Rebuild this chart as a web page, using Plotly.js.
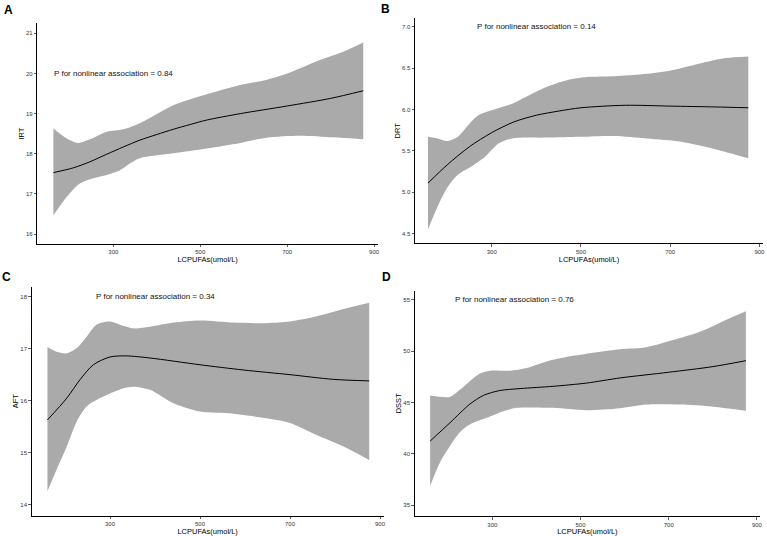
<!DOCTYPE html>
<html>
<head>
<meta charset="utf-8">
<script src="https://cdn.plot.ly/plotly-3.0.1.min.js"></script>
<style>html,body{margin:0;padding:0;background:#fff;}#chart{width:767px;height:536px;}</style>
</head>
<body>
<div id="chart"></div>
<script>
// ---------- Panel A: IRT ----------
const A_lineX = [162, 208, 246, 285, 323, 361, 400, 438, 477, 515, 592, 700, 800, 875];
const A_lineY = [17.53, 17.65, 17.80, 17.99, 18.17, 18.34, 18.48, 18.61, 18.73, 18.84, 19.00, 19.19, 19.38, 19.57];
const A_upX = [162, 193, 219, 246, 285, 323, 361, 400, 438, 477, 515, 592, 652, 700, 767, 829, 875];
const A_upY = [18.63, 18.38, 18.27, 18.36, 18.55, 18.61, 18.76, 18.99, 19.21, 19.36, 19.48, 19.71, 19.84, 20.0, 20.30, 20.54, 20.77];
const A_loX = [162, 193, 223, 254, 285, 315, 338, 361, 438, 515, 592, 652, 729, 806, 875];
const A_loY = [16.47, 16.93, 17.26, 17.39, 17.47, 17.59, 17.76, 17.89, 18.01, 18.13, 18.27, 18.40, 18.45, 18.41, 18.36];

// ---------- Panel B: DRT ----------
const B_lineX = [157, 200, 250, 300, 350, 400, 450, 500, 600, 700, 800, 875];
const B_lineY = [5.11, 5.33, 5.55, 5.72, 5.85, 5.93, 5.98, 6.02, 6.05, 6.04, 6.03, 6.02];
const B_upX = [157, 178, 201, 224, 247, 270, 300, 346, 376, 422, 467, 513, 573, 649, 710, 771, 824, 875];
const B_upY = [5.67, 5.65, 5.62, 5.67, 5.81, 5.93, 5.99, 6.07, 6.15, 6.27, 6.35, 6.39, 6.40, 6.43, 6.48, 6.56, 6.62, 6.64];
const B_loX = [157, 178, 201, 224, 254, 285, 315, 346, 422, 498, 573, 649, 725, 801, 875];
const B_loY = [4.55, 4.82, 5.06, 5.21, 5.31, 5.43, 5.59, 5.65, 5.66, 5.67, 5.68, 5.65, 5.61, 5.52, 5.41];

// ---------- Panel C: AFT ----------
const C_lineX = [161, 204, 233, 263, 300, 337, 389, 500, 596, 700, 796, 876];
const C_lineY = [15.63, 16.05, 16.40, 16.69, 16.84, 16.86, 16.82, 16.69, 16.59, 16.50, 16.41, 16.38];
const C_upX = [161, 181, 204, 226, 248, 270, 300, 322, 352, 389, 441, 500, 574, 648, 700, 759, 819, 876];
const C_upY = [17.03, 16.94, 16.91, 17.01, 17.23, 17.46, 17.52, 17.46, 17.39, 17.42, 17.50, 17.54, 17.50, 17.49, 17.52, 17.62, 17.76, 17.88];
const C_loX = [161, 181, 204, 226, 248, 278, 300, 330, 352, 389, 441, 500, 574, 648, 700, 759, 819, 876];
const C_loY = [14.26, 14.67, 15.12, 15.60, 15.89, 16.05, 16.14, 16.24, 16.27, 16.21, 15.95, 15.79, 15.75, 15.66, 15.57, 15.34, 15.12, 14.86];

// ---------- Panel D: DSST ----------
const D_lineX = [159, 204, 249, 280, 317, 363, 438, 514, 590, 700, 800, 875];
const D_lineY = [41.24, 43.03, 44.84, 45.70, 46.17, 46.36, 46.58, 46.90, 47.40, 47.95, 48.50, 49.08];
const D_upX = [159, 204, 227, 249, 272, 295, 340, 378, 423, 476, 590, 649, 710, 771, 832, 875];
const D_upY = [45.68, 45.55, 46.26, 47.07, 47.82, 48.10, 48.10, 48.37, 49.00, 49.50, 50.20, 50.40, 51.10, 51.90, 53.10, 53.90];
const D_loX = [159, 181, 204, 227, 249, 287, 325, 355, 438, 514, 590, 649, 725, 801, 875];
const D_loY = [36.87, 39.14, 40.76, 42.12, 42.86, 43.51, 44.16, 44.48, 44.48, 44.25, 44.45, 44.80, 44.80, 44.60, 44.20];

// ---------- Labels ----------
const panelLetters = ['A', 'B', 'C', 'D'];
const yTitles = ['IRT', 'DRT', 'AFT', 'DSST'];
const xTitle = 'LCPUFAs(umol/L)';
const pTexts = ['P for nonlinear association = 0.84', 'P for nonlinear association = 0.14',
                'P for nonlinear association = 0.34', 'P for nonlinear association = 0.76'];
const xTicks = [300, 500, 700, 900];
const yTicksA = [16, 17, 18, 19, 20, 21];
const yTicksB = [4.5, 5.0, 5.5, 6.0, 6.5, 7.0];
const yTicksC = [14, 15, 16, 17, 18];
const yTicksD = [35, 40, 45, 50, 55];

const panels = [
  {lx: A_lineX, ly: A_lineY, ux: A_upX, uy: A_upY, dx: A_loX, dy: A_loY},
  {lx: B_lineX, ly: B_lineY, ux: B_upX, uy: B_upY, dx: B_loX, dy: B_loY},
  {lx: C_lineX, ly: C_lineY, ux: C_upX, uy: C_upY, dx: C_loX, dy: C_loY},
  {lx: D_lineX, ly: D_lineY, ux: D_upX, uy: D_upY, dx: D_loX, dy: D_loY}
];

const FILL = '#aaaaaa';
const traces = [];
panels.forEach((p, i) => {
  const sfx = i === 0 ? '' : String(i + 1);
  traces.push({
    x: p.dx, y: p.dy, type: 'scatter', mode: 'lines',
    line: {width: 0, color: FILL, shape: 'spline', smoothing: 0.8},
    xaxis: 'x' + sfx, yaxis: 'y' + sfx, hoverinfo: 'skip', showlegend: false
  });
  traces.push({
    x: p.ux, y: p.uy, type: 'scatter', mode: 'lines', fill: 'tonexty', fillcolor: FILL,
    line: {width: 0, color: FILL, shape: 'spline', smoothing: 0.8},
    xaxis: 'x' + sfx, yaxis: 'y' + sfx, hoverinfo: 'skip', showlegend: false
  });
  traces.push({
    x: p.lx, y: p.ly, type: 'scatter', mode: 'lines',
    line: {width: 1, color: '#000000', shape: 'spline', smoothing: 0.8},
    xaxis: 'x' + sfx, yaxis: 'y' + sfx, showlegend: false
  });
});

const tickFont = {family: 'Liberation Sans, Arial, sans-serif', size: 6, color: '#333333'};
const titleFont = {family: 'Liberation Sans, Arial, sans-serif', size: 7.5, color: '#000000'};

function xAxis(domain, range, anchor) {
  return {
    domain: domain, range: range, anchor: anchor,
    tickvals: xTicks, ticktext: xTicks.map(String),
    showline: true, linecolor: '#000000', linewidth: 1,
    ticks: 'outside', ticklen: 2.5, tickwidth: 0.8, tickcolor: '#333333',
    tickfont: tickFont, showgrid: false, zeroline: false, automargin: false,
    title: {text: xTitle, font: titleFont, standoff: 0}
  };
}
function yAxis(domain, range, anchor, vals, fmt, title) {
  return {
    domain: domain, range: range, anchor: anchor,
    tickvals: vals, ticktext: vals.map(v => fmt ? v.toFixed(1) : String(v)),
    showline: true, linecolor: '#000000', linewidth: 1,
    ticks: 'outside', ticklen: 2.5, tickwidth: 0.8, tickcolor: '#333333',
    tickfont: tickFont, showgrid: false, zeroline: false, automargin: false,
    title: {text: title, font: titleFont, standoff: 0}
  };
}

const W = 767, H = 536;
const layout = {
  width: W, height: H,
  margin: {l: 0, r: 0, t: 0, b: 0},
  paper_bgcolor: '#ffffff', plot_bgcolor: '#ffffff',
  showlegend: false,
  xaxis:  xAxis([37.3 / W, 378 / W], [125, 909], 'y'),
  yaxis:  yAxis([1 - 243.7 / H, 1 - 23.3 / H], [15.76, 21.25], 'x', yTicksA, false, yTitles[0]),
  xaxis2: xAxis([415 / W, 763 / W], [128, 908], 'y2'),
  yaxis2: yAxis([1 - 243.3 / H, 1 - 18.3 / H], [4.384, 7.10], 'x2', yTicksB, true, yTitles[1]),
  xaxis3: xAxis([31.7 / W, 383.6 / W], [126, 908], 'y3'),
  yaxis3: yAxis([1 - 515.7 / H, 1 - 286.7 / H], [13.79, 18.19], 'x3', yTicksC, false, yTitles[2]),
  xaxis4: xAxis([414.7 / W, 760 / W], [124, 907], 'y4'),
  yaxis4: yAxis([1 - 516 / H, 1 - 290.7 / H], [33.94, 55.9], 'x4', yTicksD, false, yTitles[3]),
  annotations: [
    {text: pTexts[0], x: 300, y: 20, xref: 'x', yref: 'y'},
    {text: pTexts[1], x: 400, y: 7.0, xref: 'x2', yref: 'y2'},
    {text: pTexts[2], x: 400, y: 18, xref: 'x3', yref: 'y3'},
    {text: pTexts[3], x: 350, y: 55, xref: 'x4', yref: 'y4'}
  ].map(a => Object.assign(a, {showarrow: false, xanchor: 'center', yanchor: 'middle',
        font: {family: 'Liberation Sans, Arial, sans-serif', size: 8, color: '#111111'}}))
  .concat([
    {text: '<b>' + panelLetters[0] + '</b>', x: 8 / W, y: 1 - 10 / H},
    {text: '<b>' + panelLetters[1] + '</b>', x: 385 / W, y: 1 - 9 / H},
    {text: '<b>' + panelLetters[2] + '</b>', x: 6 / W, y: 1 - 277 / H},
    {text: '<b>' + panelLetters[3] + '</b>', x: 386 / W, y: 1 - 277 / H}
  ].map(a => Object.assign(a, {xref: 'paper', yref: 'paper', showarrow: false,
        xanchor: 'center', yanchor: 'middle',
        font: {family: 'Liberation Sans, Arial, sans-serif', size: 12, color: '#000000'}})))
};

Plotly.newPlot('chart', traces, layout, {displayModeBar: false, staticPlot: true});
</script>
</body>
</html>
